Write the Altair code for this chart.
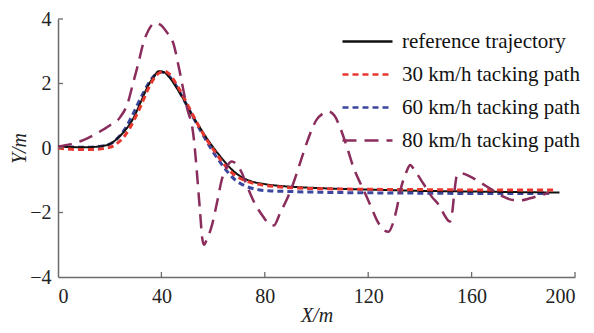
import altair as alt
import pandas as pd

series_names = ["reference trajectory", "30 km/h tacking path",
                "60 km/h tacking path", "80 km/h tacking path"]
series_colors = ["#111111", "#e8372f", "#3b479e", "#8a2d5c"]

ref_x = [0, 5, 10, 15, 20, 23, 26, 29, 32, 35, 37, 39, 41, 43, 46, 49, 52, 55, 58,
         61, 64, 67, 70, 73, 76, 80, 85, 90, 100, 110, 120, 130, 140, 150, 160, 170, 180, 194]
ref_y = [0.04, 0.03, 0.02, 0.04, 0.12, 0.3, 0.55, 0.9, 1.42, 1.95, 2.2, 2.38, 2.35, 2.2,
         1.85, 1.45, 1.0, 0.62, 0.25, -0.08, -0.38, -0.65, -0.85, -0.98, -1.06, -1.12,
         -1.17, -1.2, -1.24, -1.27, -1.29, -1.31, -1.33, -1.34, -1.35, -1.36, -1.37, -1.38]

v30_x = [0, 5, 10, 15, 20, 23, 26, 29, 32, 35, 38, 41, 43, 46, 49, 52, 55, 58, 61, 64,
         67, 70, 73, 76, 80, 85, 90, 100, 120, 140, 160, 180, 192]
v30_y = [0.0, -0.04, -0.05, -0.04, 0.02, 0.15, 0.4, 0.8, 1.3, 1.85, 2.25, 2.38, 2.3,
         1.95, 1.52, 1.05, 0.6, 0.2, -0.15, -0.48, -0.75, -0.92, -1.03, -1.1, -1.16,
         -1.2, -1.23, -1.26, -1.28, -1.29, -1.3, -1.3, -1.3]

v60_x = [0, 5, 10, 15, 20, 23, 26, 29, 32, 35, 38, 40, 42, 45, 48, 51, 54, 57, 60, 63,
         66, 69, 72, 75, 78, 82, 90, 100, 120, 140, 160, 180, 190]
v60_y = [0.05, 0.03, 0.02, 0.04, 0.12, 0.3, 0.6, 1.05, 1.55, 2.0, 2.3, 2.36, 2.3, 2.02,
         1.6, 1.15, 0.7, 0.28, -0.12, -0.47, -0.78, -1.02, -1.16, -1.25, -1.3, -1.33,
         -1.35, -1.37, -1.39, -1.4, -1.41, -1.41, -1.41]

v80_x = [0, 5, 10, 16, 20, 24, 27, 29, 31, 33, 35, 37.5, 40, 42, 44.6, 47, 49.8, 52.3,
         54.9, 55.8, 56.5, 57.5, 59.4, 61.5, 63.3, 65.5, 67.2, 69, 71, 73, 76, 79.4, 82,
         83.5, 86, 88.5, 91, 93.5, 96.2, 100, 102.5, 104.6, 107, 109, 111.5, 114.2, 117,
         119.4, 121.5, 123.3, 125.5, 127.8, 129.5, 131.2, 132.5, 133.6, 135, 136.2, 138,
         141.3, 144.5, 147.8, 150, 151.6, 152.5, 153.3, 154.2, 155.5, 157.4, 160.7, 164,
         167, 170, 172.3, 176, 179, 182.6, 186, 189, 190]
v80_y = [0.05, 0.12, 0.25, 0.5, 0.7, 0.95, 1.4, 2.0, 2.6, 3.25, 3.65, 3.88, 3.8, 3.6,
         3.25, 2.4, 1.28, 0.45, -1.92, -2.8, -3.0, -2.85, -2.44, -1.7, -1.0, -0.55, -0.42,
         -0.5, -0.75, -1.15, -1.7, -2.13, -2.38, -2.4, -2.0, -1.6, -1.1, -0.5, 0.15, 0.87,
         1.07, 1.13, 1.0, 0.66, 0.1, -0.58, -1.1, -1.51, -1.9, -2.23, -2.5, -2.6, -2.35,
         -1.82, -1.3, -0.99, -0.7, -0.53, -0.7, -1.1, -1.5, -1.82, -2.15, -2.28, -2.0,
         -1.4, -0.89, -0.78, -0.81, -0.94, -1.1, -1.25, -1.4, -1.51, -1.61, -1.62, -1.56,
         -1.48, -1.41, -1.38]

x_ticks = [0, 40, 80, 120, 160, 200]
y_ticks = [-4, -2, 0, 2, 4]
x_inner_ticks = [40, 80, 120, 160, 200]
y_inner_ticks = [-2, 0, 2, 4]

rows = []
for name, xs, ys in zip(series_names, [ref_x, v30_x, v60_x, v80_x],
                        [ref_y, v30_y, v60_y, v80_y]):
    for i, (a, b) in enumerate(zip(xs, ys)):
        rows.append({"series": name, "X": a, "Y": b, "i": i})
df = pd.DataFrame(rows)

W, H = 517, 258
FONT = "Liberation Serif"

xscale = alt.Scale(domain=[0, 200], nice=False, zero=False)
yscale = alt.Scale(domain=[-4, 4], nice=False, zero=False)


def make_legend():
    return alt.Legend(title=None, orient="none", legendX=298, legendY=11,
                      symbolType="M-2.5,0H2.5", symbolSize=400,
                      symbolStrokeWidth=2.5, labelFont=FONT,
                      labelFontSize=21, labelColor="#111",
                      labelOffset=23, rowPadding=11, labelLimit=400)


color_enc = alt.Color("series:N",
                      scale=alt.Scale(domain=series_names, range=series_colors),
                      legend=make_legend())
dash_enc = alt.StrokeDash("series:N",
                          scale=alt.Scale(domain=series_names,
                                          range=[[1, 0], [6, 4], [6, 4], [14, 8]]),
                          legend=make_legend())

xaxis = alt.Axis(values=x_ticks, title="X/m", grid=False, ticks=False, tickSize=0,
                 labelPadding=9, titlePadding=-1, titleFontStyle="italic",
                 titleFontWeight="normal")
yaxis = alt.Axis(values=y_ticks, title="Y/m", grid=False, ticks=False, tickSize=0,
                 labelPadding=7, titlePadding=0, titleFontStyle="italic",
                 titleFontWeight="normal")

base = alt.Chart(df)
widths = {series_names[0]: 2.0, series_names[1]: 3.0,
          series_names[2]: 3.0, series_names[3]: 2.5}
layers = []
for name in [series_names[2], series_names[0], series_names[1], series_names[3]]:
    layers.append(
        base.transform_filter(alt.datum.series == name)
        .mark_line(interpolate="monotone", strokeWidth=widths[name], strokeCap="butt")
        .encode(x=alt.X("X:Q", scale=xscale, axis=xaxis),
                y=alt.Y("Y:Q", scale=yscale, axis=yaxis),
                color=color_enc, strokeDash=dash_enc, order="i:Q")
    )

xt = alt.Chart(pd.DataFrame({"t": x_inner_ticks})).mark_rule(
    color="#6b6b6b", strokeWidth=1.3).encode(
    x=alt.X("t:Q", scale=xscale), y=alt.value(H), y2=alt.value(H - 5))
yt = alt.Chart(pd.DataFrame({"t": y_inner_ticks})).mark_rule(
    color="#6b6b6b", strokeWidth=1.3).encode(
    y=alt.Y("t:Q", scale=yscale), x=alt.value(0), x2=alt.value(5))

chart = alt.layer(*layers, xt, yt).properties(
    width=W, height=H,
    background="white",
    autosize=alt.AutoSizeParams(type="none"),
    padding={"left": 50, "top": 11, "right": 10, "bottom": 48},
).configure_view(stroke=None).configure_axis(
    domainColor="#6b6b6b", domainWidth=1.5,
    labelFont=FONT, labelFontSize=20, labelColor="#222",
    titleFont=FONT, titleFontSize=20, titleColor="#222",
)

chart.save("out.html", embed_options={"renderer": "svg", "actions": False})
